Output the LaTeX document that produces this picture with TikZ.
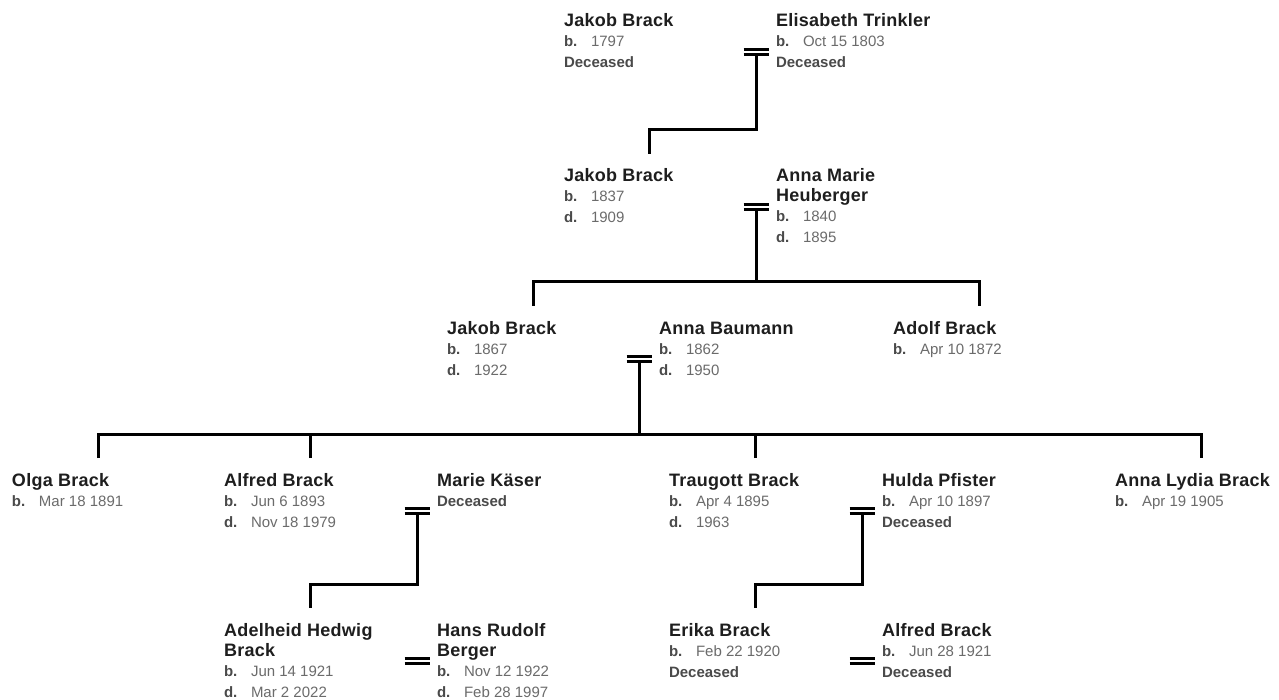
\documentclass[tikz,border=0pt]{standalone}
\usepackage{fontspec}
\setmainfont{Liberation Sans}
\newfontfamily\namefont{Liberation Sans}[LetterSpace=1.5]
\definecolor{namec}{HTML}{1E1E1E}
\definecolor{lblc}{HTML}{4A4A4A}
\definecolor{datec}{HTML}{6B6B6B}

% one line of a person card: the name (bold, dark)
\newcommand\nm[1]{\hbox{\vrule height15pt depth5pt width0pt{\namefont\bfseries\fontsize{18}{20}\selectfont\color{namec}#1}}}
% a dated fact: bold label in a fixed column, then the date
\newcommand\bd[2]{\hbox{\vrule height15pt depth6pt width0pt\hbox to27pt{\fontsize{15}{17}\selectfont\bfseries\color{lblc}#1\hfil}{\fontsize{15}{17}\selectfont\color{datec}#2}}}
% "Deceased" line
\newcommand\dc{\hbox{\vrule height15pt depth6pt width0pt{\fontsize{15}{17}\selectfont\bfseries\color{lblc}Deceased}}}
\newcommand\card[1]{\vbox{\offinterlineskip#1}}

\tikzset{
  person/.style={anchor=north west, inner sep=0pt, outer sep=0pt},
  link/.style={line width=3pt, black, line join=miter},
  bar/.style={line width=3pt, black},
  wed/.pic={\draw[bar] (-12.5,-2.4) -- (12.5,-2.4) (-12.5,2.4) -- (12.5,2.4);}
}

\begin{document}
\begin{tikzpicture}[x=1pt, y=-1pt]
\useasboundingbox[fill=white] (0,0) rectangle (1279,700);

% ---------- generation 1
\node[person] (jb1) at (564,12) {\card{\nm{Jakob Brack}\bd{b.}{1797}\dc}};
\node[person] (et1) at (776,12) {\card{\nm{Elisabeth Trinkler}\bd{b.}{Oct 15 1803}\dc}};

% ---------- generation 2
\node[person] (jb2) at (564,167) {\card{\nm{Jakob Brack}\bd{b.}{1837}\bd{d.}{1909}}};
\node[person] (amh2) at (776,167) {\card{\nm{Anna Marie}\nm{Heuberger}\bd{b.}{1840}\bd{d.}{1895}}};

% ---------- generation 3
\node[person] (jb3) at (447,319) {\card{\nm{Jakob Brack}\bd{b.}{1867}\bd{d.}{1922}}};
\node[person] (ab3) at (659,319) {\card{\nm{Anna Baumann}\bd{b.}{1862}\bd{d.}{1950}}};
\node[person] (adb3) at (893,319) {\card{\nm{Adolf Brack}\bd{b.}{Apr 10 1872}}};

% ---------- generation 4
\node[person] (ob4) at (12,471) {\card{\nm{Olga Brack}\bd{b.}{Mar 18 1891}}};
\node[person] (alb4) at (224,471) {\card{\nm{Alfred Brack}\bd{b.}{Jun 6 1893}\bd{d.}{Nov 18 1979}}};
\node[person] (mk4) at (437,471) {\card{\nm{Marie Käser}\dc}};
\node[person] (tb4) at (669,471) {\card{\nm{Traugott Brack}\bd{b.}{Apr 4 1895}\bd{d.}{1963}}};
\node[person] (hp4) at (882,471) {\card{\nm{Hulda Pfister}\bd{b.}{Apr 10 1897}\dc}};
\node[person] (alb4b) at (1115,471) {\card{\nm{Anna Lydia Brack}\bd{b.}{Apr 19 1905}}};

% ---------- generation 5
\node[person] (ahb5) at (224,621) {\card{\nm{Adelheid Hedwig}\nm{Brack}\bd{b.}{Jun 14 1921}\bd{d.}{Mar 2 2022}}};
\node[person] (hrb5) at (437,621) {\card{\nm{Hans Rudolf}\nm{Berger}\bd{b.}{Nov 12 1922}\bd{d.}{Feb 28 1997}}};
\node[person] (eb5) at (669,621) {\card{\nm{Erika Brack}\bd{b.}{Feb 22 1920}\dc}};
\node[person] (afb5) at (882,621) {\card{\nm{Alfred Brack}\bd{b.}{Jun 28 1921}\dc}};

% ---------- marriage points (left of the second spouse)
\coordinate (u1) at ([shift={(-20,40)}]et1.north west);
\coordinate (u2) at ([shift={(-20,40)}]amh2.north west);
\coordinate (u3) at ([shift={(-20,40)}]ab3.north west);
\coordinate (u4a) at ([shift={(-20,40)}]mk4.north west);
\coordinate (u4b) at ([shift={(-20,40)}]hp4.north west);
\coordinate (u5a) at ([shift={(-20,40)}]hrb5.north west);
\coordinate (u5b) at ([shift={(-20,40)}]afb5.north west);

% ---------- child drop points (above each child's name)
\coordinate (k2) at ([shift={(85,-13)}]jb2.north west);
\coordinate (k3a) at ([shift={(86,-13)}]jb3.north west);
\coordinate (k3b) at ([shift={(86,-13)}]adb3.north west);
\coordinate (k4a) at ([shift={(86,-13)}]ob4.north west);
\coordinate (k4b) at ([shift={(86,-13)}]alb4.north west);
\coordinate (k4c) at ([shift={(86,-13)}]tb4.north west);
\coordinate (k4d) at ([shift={(86,-13)}]alb4b.north west);
\coordinate (k5a) at ([shift={(86,-13)}]ahb5.north west);
\coordinate (k5b) at ([shift={(86,-13)}]eb5.north west);

% ---------- descent lines
\draw[link] ([yshift=-2pt]u1) |- ([shift={(0,-24)}]k2) -- (k2);

\draw[link] (k3a) -- ++(0,-24) coordinate (bus3) -| (k3b);
\draw[link] ([yshift=-2pt]u2) -- (u2 |- bus3);

\draw[link] (k4a) -- ++(0,-24) coordinate (bus4) -| (k4d);
\draw[link] (k4b) -- (k4b |- bus4);
\draw[link] (k4c) -- (k4c |- bus4);
\draw[link] ([yshift=-2pt]u3) -- (u3 |- bus4);

\draw[link] ([yshift=-2pt]u4a) |- ([shift={(0,-24)}]k5a) -- (k5a);
\draw[link] ([yshift=-2pt]u4b) |- ([shift={(0,-24)}]k5b) -- (k5b);

% ---------- marriage symbols
\foreach \u in {u1,u2,u3,u4a,u4b,u5a,u5b} {
  \fill[white] ([shift={(-12.5,-4)}]\u) rectangle ([shift={(12.5,4)}]\u);
  \pic at (\u) {wed};
}
\end{tikzpicture}
\end{document}
